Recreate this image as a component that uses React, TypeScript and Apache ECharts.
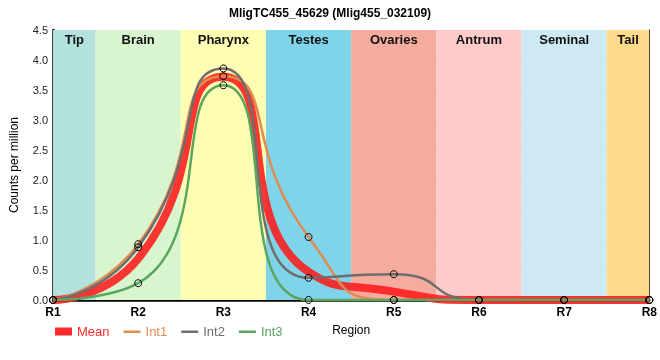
import React, { useEffect, useRef } from "react";
import * as echarts from "echarts";

const regions = ["R1", "R2", "R3", "R4", "R5", "R6", "R7", "R8"];
const bandNames = ["Tip", "Brain", "Pharynx", "Testes", "Ovaries", "Antrum", "Seminal", "Tail"];
const bandStarts = [1, 1.5, 2.5, 3.5, 4.5, 5.5, 6.5, 7.5];
const bandEnds = [1.5, 2.5, 3.5, 4.5, 5.5, 6.5, 7.5, 8];
const bandColors = ["#b3e2dd", "#d8f5cf", "#fefdb4", "#7fd4ea", "#f5ac9e", "#fecbcb", "#cdeaf4", "#fdda8c"];

const meanValues = [0, 0.69, 3.72, 0.47, 0.14, 0, 0, 0];
const int1Values = [0, 0.93, 3.73, 1.05, 0, 0, 0, 0];
const int2Values = [0, 0.88, 3.86, 0.37, 0.43, 0, 0, 0];
const int3Values = [0, 0.28, 3.58, 0, 0, 0, 0, 0];

const yTicks = [0, 0.5, 1, 1.5, 2, 2.5, 3, 3.5, 4, 4.5];

const FONT = "Liberation Sans, Arial, sans-serif";
const thinIcon = "path://M0,0 M0,3 L17,3 L17,5.5 L0,5.5 Z M17,8";
const SMOOTH = 0.62;

const COLORS = { Mean: "#ff2a2a", Int1: "#df8c4f", Int2: "#6e6e6e", Int3: "#5ba65f" };

export default function App() {
  const ref = useRef<HTMLDivElement>(null);
  useEffect(() => {
    if (!ref.current) return;
    const chart = echarts.init(ref.current, null, { renderer: "svg" });
    const toPts = (arr: number[]) => arr.map((v, i) => [i + 1, v]);
    const intSeries = (name: string, vals: number[], color: string) => ({
      name,
      type: "line",
      data: toPts(vals),
      smooth: SMOOTH,
      symbol: "circle",
      symbolSize: 7,
      showSymbol: true,
      itemStyle: { color: "transparent", borderColor: "#000", borderWidth: 1 },
      lineStyle: { color, width: 2.5 },
      z: 3,
    });
    const legendItem = (name: string, icon: string) => ({
      name,
      icon,
      itemStyle: { color: (COLORS as any)[name], borderWidth: 0, borderColor: (COLORS as any)[name] },
      lineStyle: { width: 0, opacity: 0 },
      textStyle: { color: (COLORS as any)[name] },
    });
    chart.setOption({
      animation: false,
      textStyle: { fontFamily: FONT },
      title: {
        text: "MligTC455_45629 (Mlig455_032109)",
        left: "center",
        top: 2,
        textStyle: { fontSize: 12, fontWeight: "bold", color: "#000", fontFamily: FONT },
      },
      grid: { left: 50, right: 9, top: 30, bottom: 60 },
      legend: {
        left: 50,
        top: 320,
        itemWidth: 17,
        itemHeight: 8,
        itemGap: 14,
        textStyle: { fontSize: 13, fontFamily: FONT },
        data: [
          legendItem("Mean", "rect"),
          legendItem("Int1", thinIcon),
          legendItem("Int2", thinIcon),
          legendItem("Int3", thinIcon),
        ],
      },
      xAxis: [
        {
          type: "value",
          min: 1,
          max: 8,
          interval: 1,
          name: "Region",
          nameLocation: "middle",
          nameGap: 24,
          nameTextStyle: { fontSize: 12, color: "#000", fontFamily: FONT },
          axisLine: { lineStyle: { color: "#000", width: 2.5 } },
          axisTick: { show: false },
          axisLabel: {
            formatter: (v: number) => regions[Math.round(v) - 1],
            fontSize: 12,
            fontWeight: "bold",
            color: "#000",
            margin: 6,
          },
          splitLine: { show: true, lineStyle: { color: "#cccccc", width: 1 } },
        },
        {
          type: "value",
          position: "top",
          min: 1,
          max: 8,
          interval: 1,
          axisLine: { show: true, lineStyle: { color: "#000", width: 1 } },
          axisTick: { show: false },
          axisLabel: { show: false },
          splitLine: { show: false },
        },
      ],
      yAxis: [
        {
          type: "value",
          min: yTicks[0],
          max: yTicks[yTicks.length - 1],
          interval: 0.5,
          name: "Counts per million",
          nameLocation: "middle",
          nameGap: 33,
          nameTextStyle: { fontSize: 12, color: "#000", fontFamily: FONT },
          axisLine: { show: true, lineStyle: { color: "#000", width: 2.5 } },
          axisTick: { show: false },
          axisLabel: { formatter: (v: number) => v.toFixed(1), fontSize: 11, color: "#222", margin: 5 },
          splitLine: { show: true, lineStyle: { color: "#cccccc", width: 1 } },
        },
        {
          type: "value",
          position: "right",
          min: yTicks[0],
          max: yTicks[yTicks.length - 1],
          interval: 0.5,
          axisLine: { show: true, lineStyle: { color: "#000", width: 1 } },
          axisTick: { show: false },
          axisLabel: { show: false },
          splitLine: { show: false },
        },
      ],
      series: [
        {
          name: "bands",
          type: "line",
          data: [],
          z: -1,
          silent: true,
          markArea: {
            silent: true,
            data: bandNames.map((n, i) => [
              {
                name: n,
                xAxis: bandStarts[i],
                itemStyle: { color: bandColors[i], opacity: 1 },
                label: {
                  show: true,
                  position: "insideTop",
                  distance: 3,
                  color: "#111",
                  fontSize: 13,
                  fontWeight: "bold",
                  fontFamily: FONT,
                },
              },
              { xAxis: bandEnds[i] },
            ]),
          },
        },
        {
          name: "Mean",
          type: "line",
          data: toPts(meanValues),
          smooth: SMOOTH,
          showSymbol: false,
          symbol: "none",
          itemStyle: { color: COLORS.Mean },
          lineStyle: { color: "#ff1a1a", width: 8, opacity: 0.88 },
          z: 2,
        },
        intSeries("Int1", int1Values, COLORS.Int1),
        intSeries("Int2", int2Values, COLORS.Int2),
        intSeries("Int3", int3Values, COLORS.Int3),
      ],
    });
    return () => chart.dispose();
  }, []);
  return <div ref={ref} style={{ position: "fixed", left: 0, top: 0, width: 660, height: 360 }} />;
}
